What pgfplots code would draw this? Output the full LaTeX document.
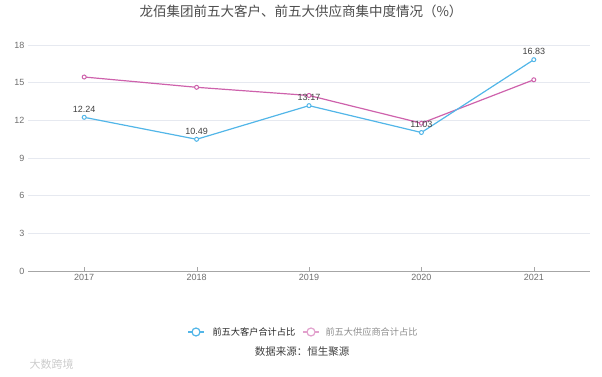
\documentclass[border=0pt]{standalone}
\usepackage{pgfplots}
\pgfplotsset{compat=1.18}
\usepackage{fontspec}
\setmainfont{Liberation Sans}
\newfontfamily\cjk{Noto Sans CJK SC}
\definecolor{cblue}{RGB}{82,182,232}
\definecolor{cpink}{RGB}{206,98,172}
\definecolor{gridc}{RGB}{230,233,240}
\definecolor{tickc}{RGB}{110,110,110}
\begin{document}
\begin{tikzpicture}[x=1pt,y=1pt]
\useasboundingbox (0,0) rectangle (602,377);
\begin{axis}[
  at={(28pt,106pt)}, anchor=south west,
  scale only axis, width=562pt, height=226pt,
  xmin=-0.5, xmax=4.5, ymin=0, ymax=18,
  xtick={0,1,2,3,4}, xticklabels={2017,2018,2019,2020,2021},
  ytick={0,3,6,9,12,15,18},
  ymajorgrids, grid style={gridc, line width=0.6pt},
  axis x line*=bottom, axis y line*=left,
  x axis line style={draw=gray!70, line width=0.8pt, -},
  y axis line style={draw=none},
  major tick length=4pt,
  xtick style={draw=gray!70},
  ytick style={draw=none},
  tick label style={font=\fontsize{9}{10}\selectfont, text=tickc},
  /pgf/number format/assume math mode=true,
  clip=false,
]
\addplot[cpink, line width=1.2pt, mark=*, mark size=2pt, mark options={fill=white, line width=1pt}]
  coordinates {(0,15.45) (1,14.63) (2,13.98) (3,11.77) (4,15.23)};
\addplot[cblue, line width=1.2pt, mark=*, mark size=2pt, mark options={fill=white, line width=1pt},
  nodes near coords, point meta=explicit symbolic,
  every node near coord/.append style={font=\fontsize{9}{10}\selectfont, text=black!75, yshift=1pt}]
  coordinates {(0,12.24)[12.24] (1,10.49)[10.49] (2,13.17)[13.17] (3,11.03)[11.03] (4,16.83)[16.83]};
\end{axis}
\node[font=\cjk\fontsize{13.5}{15}\selectfont, text=black!70] at (301,366) {龙佰集团前五大客户、前五大供应商集中度情况（\%）};
% legend
\draw[cblue, line width=1.2pt] (188,45) -- (204,45);
\draw[cblue, line width=1.2pt, fill=white] (196,45) circle (4pt);
\node[anchor=west, font=\cjk\fontsize{9.2}{10}\selectfont, text=black!85] at (209,45) {前五大客户合计占比};
\draw[cpink!60, line width=1.2pt] (303,45) -- (319,45);
\draw[cpink!60, line width=1.2pt, fill=white] (311,45) circle (4pt);
\node[anchor=west, font=\cjk\fontsize{9.2}{10}\selectfont, text=black!45] at (322,45) {前五大供应商合计占比};
\node[font=\cjk\fontsize{10.5}{12}\selectfont, text=black!75] at (302,25) {数据来源：恒生聚源};
\node[anchor=west, font=\cjk\fontsize{11}{12}\selectfont, text=black!20] at (26,13) {大数跨境};
\end{tikzpicture}
\end{document}
